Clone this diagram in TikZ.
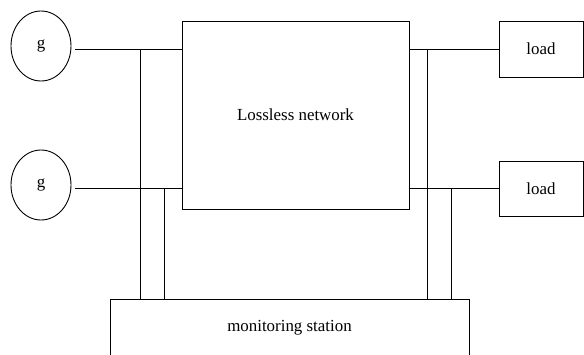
\documentclass[tikz,border=0pt]{standalone}
\usepackage{fontspec}
\setmainfont{Liberation Serif}
\usetikzlibrary{shapes.geometric}
\begin{document}
\begin{tikzpicture}[x=1pt,y=-1pt,line width=0.9pt,
  gen/.style={draw,ellipse,minimum width=60pt,minimum height=70pt,inner sep=0pt,font=\fontsize{16.9}{19}\selectfont},
  box/.style={draw,rectangle,inner sep=0pt,font=\fontsize{16.9}{19}\selectfont}]
\clip (0,0) rectangle (584,354);
\fill[white] (0,0) rectangle (584,354);
\node[gen] (g1) at (41,46) {g};
\node[gen] (g2) at (41,185) {g};
\node[box,minimum width=227pt,minimum height=188pt] (net) at (295.5,115) {Lossless network};
\node[box,minimum width=84pt,minimum height=56pt] (l1) at (541,49) {load};
\node[box,minimum width=84pt,minimum height=55pt] (l2) at (541,188.5) {load};
\node[box,minimum width=359pt,minimum height=58pt] (mon) at (289.5,328) {monitoring station};
\coordinate (a1) at (140,0);
\coordinate (a2) at (164,0);
\coordinate (b1) at (427,0);
\coordinate (b2) at (451,0);
\coordinate (y1) at (0,49);
\coordinate (y2) at (0,188);
% generator feeders
\draw ([xshift=4pt]g1.east |- y1) -- (net.west |- y1);
\draw ([xshift=4pt]g2.east |- y2) -- (net.west |- y2);
% load feeders
\draw (net.east |- y1) -- (l1.west |- y1);
\draw (net.east |- y2) -- (l2.west |- y2);
% measurement taps
\draw (a1 |- y1) -- (a1 |- mon.north);
\draw (a2 |- y2) -- (a2 |- mon.north);
\draw (b1 |- y1) -- (b1 |- mon.north);
\draw (b2 |- y2) -- (b2 |- mon.north);
\end{tikzpicture}
\end{document}
